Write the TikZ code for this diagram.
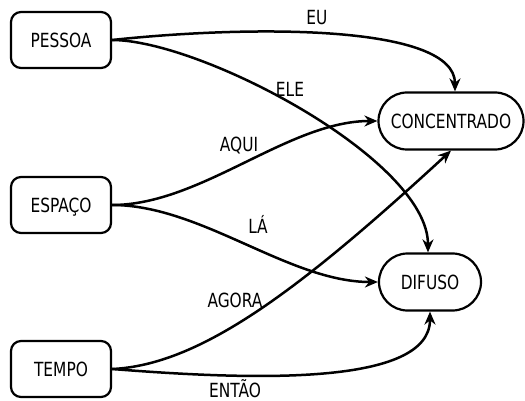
\documentclass[tikz,border=0pt]{standalone}
\usepackage{fontspec}
\setmainfont{DejaVu Sans}[FakeStretch=0.79]
\usetikzlibrary{arrows.meta}
\begin{document}
\begin{tikzpicture}[x=1pt,y=-1pt,line cap=round]
        % Styles
        \tikzstyle{label text}=[font=\fontsize{19.5}{22}\selectfont,text height=14.2pt,text depth=0pt]
        \tikzstyle{box}=[label text,draw,line width=2.2pt,rounded corners=10pt,minimum width=100pt,minimum height=56pt]
        \tikzstyle{pill}=[box,rounded corners=28.5pt,minimum height=57pt]
        \tikzstyle{link}=[line width=2.5pt,-{Stealth[length=13pt,width=11pt]}]
        \useasboundingbox (0,0) rectangle (525,401);
        %nodes
        \node[box] (pessoa) at (61,40) {PESSOA};
        \node[box] (espaco) at (61,205) {ESPAÇO};
        \node[box] (tempo) at (61,369) {TEMPO};
        \node[pill,minimum width=145pt] (concentrado) at (451,121) {CONCENTRADO};
        \node[pill,minimum width=102pt] (difuso) at (430,282) {DIFUSO};
        %links
        \draw[link] (pessoa.east) .. controls +(140,-15) and +(0,-67) .. ([xshift=4pt]concentrado.north);
        \draw[link] (pessoa.east) .. controls +(89,0) and +(0,-93) .. ([xshift=-2pt]difuso.north);
        \draw[link] (espaco.east) .. controls +(89,0) and +(-89,0) .. (concentrado.west);
        \draw[link] (espaco.east) .. controls +(89,0) and +(-89,0) .. (difuso.west);
        \draw[link] (tempo.east) .. controls +(89,-4) and +(-150,138) .. (concentrado.south);
        \draw[link] (tempo.east) .. controls +(139,11) and +(0,75) .. (difuso.south);
        %labels
        \node[label text] (eu) at (317,17) {EU};
        \node[label text] (ele) at (290,89) {ELE};
        \node[label text] (aqui) at (239,144) {AQUI};
        \node[label text] (la) at (258,226) {LÁ};
        \node[label text] (agora) at (235,300.5) {AGORA};
        \node[label text] (entao) at (235,390.3) {ENTÃO};
\end{tikzpicture}
\end{document}
